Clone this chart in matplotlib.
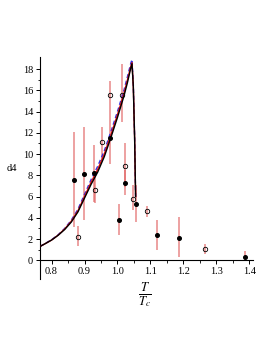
import matplotlib
matplotlib.use('Agg')
import matplotlib.pyplot as plt
import numpy as np

plt.rcParams['font.family'] = ['Liberation Serif', 'DejaVu Serif']
plt.rcParams['mathtext.fontset'] = 'stix'

# filled points (black dots) with red error bars
fx = [0.868, 0.898, 0.929, 0.976, 1.005, 1.023, 1.055, 1.121, 1.187, 1.388]
fy = [7.6, 8.1, 8.2, 11.5, 3.75, 7.3, 5.3, 2.4, 2.1, 0.35]
f_lo = [3.1, 3.8, 5.5, 9.1, 2.4, 6.1, 3.6, 1.0, 0.35, 0.0]
f_hi = [12.1, 12.5, 10.85, 14.0, 5.3, 8.5, 7.1, 3.8, 4.1, 0.85]

# open circles with red error bars
ox = [0.879, 0.932, 0.954, 0.977, 1.013, 1.024, 1.046, 1.090, 1.266]
oy = [2.2, 6.65, 11.1, 15.6, 15.6, 8.9, 5.8, 4.65, 1.05]
o_lo = [1.3, 5.4, 9.4, 14.0, 13.0, 6.9, 4.7, 4.1, 0.6]
o_hi = [3.2, 8.2, 12.55, 16.85, 18.5, 11.0, 7.1, 5.1, 1.55]

# model curves
cx = [0.765, 0.78, 0.80, 0.82, 0.84, 0.86, 0.88, 0.90, 0.92, 0.94, 0.96, 0.98,
      1.00, 1.02, 1.03, 1.04, 1.044, 1.048, 1.052, 1.055]
black_y = [1.3, 1.55, 1.9, 2.35, 2.9, 3.6, 4.55, 5.85, 7.15, 8.3, 9.75, 11.55,
           13.45, 15.5, 16.7, 18.05, 18.5, 16.4, 11.5, 6.0]
red_y = [1.3, 1.55, 1.9, 2.37, 2.95, 3.68, 4.65, 6.0, 7.35, 8.55, 10.0, 11.8,
         13.7, 15.75, 16.95, 18.2, 18.6, 16.4, 11.5, 6.0]
blue_y = [1.3, 1.57, 1.93, 2.4, 3.0, 3.78, 4.8, 6.2, 7.6, 8.85, 10.3, 12.1,
          14.0, 16.05, 17.25, 18.5, 18.9, 16.6, 11.6, 6.0]

fig = plt.figure(figsize=(2.73, 3.53), dpi=100)
ax = fig.add_axes([0.1465, 0.2085, 0.779, 0.629])

ax.vlines(fx, f_lo, f_hi, color='#e06060', alpha=0.75, lw=1.1, zorder=1)
ax.vlines(ox, o_lo, o_hi, color='#e06060', alpha=0.75, lw=1.1, zorder=1)

ax.plot(cx, blue_y, color='#3030e0', lw=1.0, ls=(0, (3, 2)), zorder=2)
ax.plot(cx, red_y, color='#e01010', lw=1.0, zorder=3)
ax.plot(cx, black_y, color='black', lw=1.0, zorder=4)

ax.plot(fx, fy, 'o', color='black', ms=2.6, zorder=5)
ax.plot(ox, oy, 'o', mfc='none', mec='black', mew=0.6, ms=3.2, zorder=5)

ax.set_xlim(0.765, 1.41)
ax.set_ylim(-1.8, 19.1)
ax.spines['top'].set_visible(False)
ax.spines['right'].set_visible(False)
ax.spines['bottom'].set_position(('data', 0))
for s in ['left', 'bottom']:
    ax.spines[s].set_linewidth(0.8)

ax.set_xticks([0.8, 0.9, 1.0, 1.1, 1.2, 1.3, 1.4])
ax.set_xticklabels(['0.8', '0.9', '1.0', '1.1', '1.2', '1.3', '1.4'])
ax.set_xticks(np.arange(0.8, 1.41, 0.05), minor=True)
ax.set_yticks([0, 2, 4, 6, 8, 10, 12, 14, 16, 18])
ax.set_yticks(np.arange(0, 19, 1), minor=True)
ax.tick_params(axis='both', labelsize=7.5, width=0.7, length=3, pad=2)
ax.tick_params(axis='both', which='minor', width=0.6, length=1.8)

ax.text(-0.13, 0.5, 'd4', transform=ax.transAxes, fontsize=7.5, ha='center', va='center')
ax.text(1.082, -3.3, r'$\frac{T}{T_c}$', fontsize=13, ha='center', va='center')

fig.savefig('out.png', dpi=100)
